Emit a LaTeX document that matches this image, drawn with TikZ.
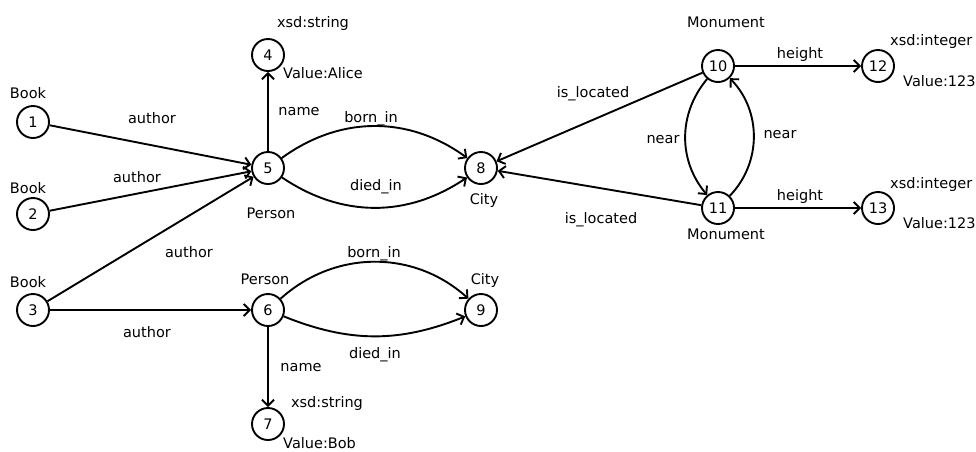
\documentclass[tikz,border=0pt]{standalone}
\usepackage{fontspec}
\setmainfont{DejaVu Sans}
\usetikzlibrary{arrows.meta}
\begin{document}
\begin{tikzpicture}[x=1pt,y=1pt,
  font=\fontsize{14.5}{17}\selectfont,
  vtx/.style={circle,draw,line width=1.9pt,minimum size=32pt,inner sep=0pt},
  lbl/.style={inner sep=0pt,anchor=base},
  lbll/.style={inner sep=0pt,anchor=base west},
  arr/.style={line width=1.9pt,-{Straight Barb[length=6pt,width=12pt]}}]
\useasboundingbox (0,0) rectangle (976,-451);
% vertices
\node[vtx] (n1) at (33,-122) {1};
\node[vtx] (n2) at (33,-214) {2};
\node[vtx] (n3) at (33,-310) {3};
\node[vtx] (n4) at (268,-55) {4};
\node[vtx] (n5) at (268,-168) {5};
\node[vtx] (n6) at (268,-310) {6};
\node[vtx] (n7) at (268,-424) {7};
\node[vtx] (n8) at (481,-168) {8};
\node[vtx] (n9) at (481,-310) {9};
\node[vtx] (n10) at (718,-66) {10};
\node[vtx] (n11) at (718,-208) {11};
\node[vtx] (n12) at (878,-66) {12};
\node[vtx] (n13) at (878,-208) {13};
% edges
\draw[arr] (n1) -- (n5);
\draw[arr] (n2) -- (n5);
\draw[arr] (n3) -- (n5);
\draw[arr] (n3) -- (n6);
\draw[arr] (n5) -- (n4);
\draw[arr] (n5) to[bend left=36] (n8);
\draw[arr] (n5) to[bend right=34] (n8);
\draw[arr] (n6) to[bend left=42] (n9);
\draw[arr] (n6) to[bend right=22] (n9);
\draw[arr] (n6) -- (n7);
\draw[arr] (n10) -- (n8);
\draw[arr] (n11) -- (n8);
\draw[arr] (n10) to[bend right=40] (n11);
\draw[arr] (n11) to[bend right=44] (n10);
\draw[arr] (n10) -- (n12);
\draw[arr] (n11) -- (n13);
% labels
\node[lbl] (tb1) at (28,-98) {Book};
\node[lbl] (tb2) at (28,-193) {Book};
\node[lbl] (tb3) at (28,-287) {Book};
\node[lbl] (ta1) at (152,-123) {author};
\node[lbl] (ta2) at (137,-182) {author};
\node[lbl] (ta3) at (189,-257) {author};
\node[lbl] (ta4) at (147,-337) {author};
\node[lbl] (tn1) at (299,-115) {name};
\node[lbl] (ts1) at (313,-27) {xsd:string};
\node[lbll] (tv1) at (283,-78) {Value:Alice};
\node[lbl] (tp1) at (271,-218) {Person};
\node[lbl] (tbi1) at (371,-122) {born\_in};
\node[lbl] (tdi1) at (376,-190) {died\_in};
\node[lbl] (tc1) at (484,-204) {City};
\node[lbl] (tp2) at (265,-284) {Person};
\node[lbl] (tbi2) at (374,-257) {born\_in};
\node[lbl] (tdi2) at (375,-358) {died\_in};
\node[lbl] (tc2) at (485,-284) {City};
\node[lbl] (tn2) at (301,-371) {name};
\node[lbl] (ts2) at (327,-407) {xsd:string};
\node[lbll] (tv2) at (283,-448) {Value:Bob};
\node[lbl] (tm1) at (726,-27) {Monument};
\node[lbl] (tm2) at (726,-239) {Monument};
\node[lbl] (th1) at (800,-58) {height};
\node[lbl] (th2) at (800,-200) {height};
\node[lbll] (ti1) at (890,-45) {xsd:integer};
\node[lbll] (ti2) at (890,-188) {xsd:integer};
\node[lbll] (tv3) at (903,-86) {Value:123};
\node[lbll] (tv4) at (903,-228) {Value:123};
\node[lbl] (tl1) at (593,-97) {is\_located};
\node[lbl] (tl2) at (601,-223) {is\_located};
\node[lbl] (tr1) at (663,-143) {near};
\node[lbl] (tr2) at (780,-138) {near};
\end{tikzpicture}
\end{document}
